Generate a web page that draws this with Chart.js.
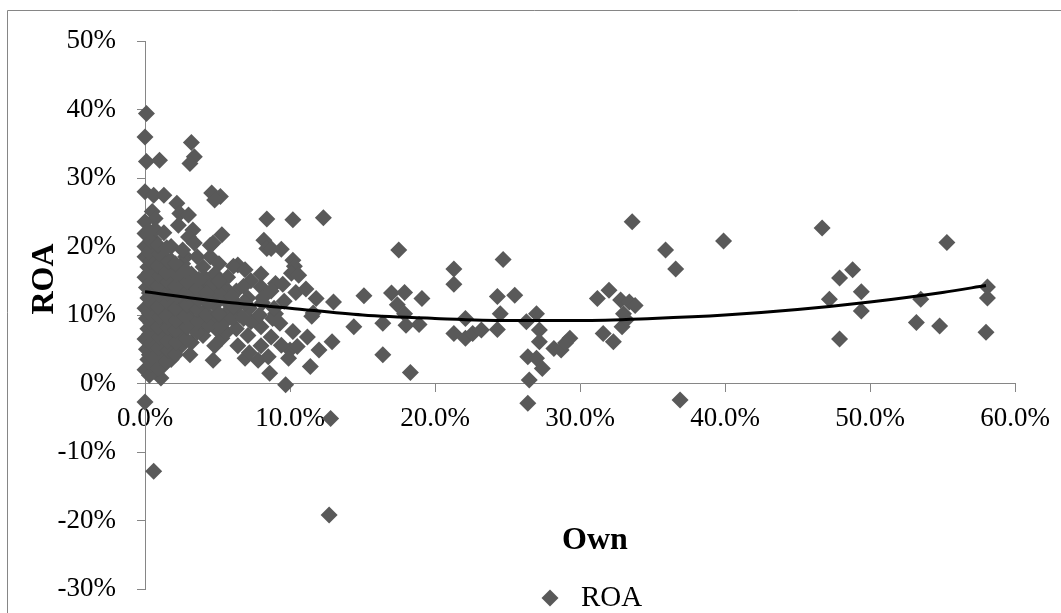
<!DOCTYPE html>
<html>
<head>
<meta charset="utf-8">
<script src="https://cdn.jsdelivr.net/npm/chart.js@4.4.1/dist/chart.umd.min.js"></script>
<style>
html, body { margin: 0; padding: 0; background: #fff; }
#wrap { width: 1061px; height: 613px; }
</style>
</head>
<body>
<div id="wrap"><canvas id="roaChart" width="1061" height="613"></canvas></div>
<script>
// values, in percent
const own = [
  // right side, sparse
  14.4,15.1,16.4,16.4,17.5,17.0,17.9,17.4,17.9,18.0,18.9,19.1,18.3,
  21.3,21.3,21.3,22.1,22.1,22.6,23.2,24.3,24.5,24.3,24.7,25.5,26.3,
  27.0,27.2,27.2,26.4,27.0,27.4,26.5,26.4,28.2,28.7,29.3,29.0,
  31.2,32.0,31.6,32.3,32.8,33.0,32.9,33.4,33.8,33.2,33.6,35.9,36.6,36.9,
  39.9,46.7,47.9,48.8,47.2,49.4,49.4,47.9,53.5,53.2,54.8,55.3,58.1,58.1,58.0,
  // middle
  8.4,10.2,12.3,8.2,8.4,9.4,10.2,10.3,10.1,9.0,8.0,11.8,13.0,11.5,
  9.3,10.2,11.2,12.9,12.0,10.0,11.4,8.6,9.7,8.0,8.7,8.5,9.0,9.9,8.1,10.5,
  12.7,12.8,0.6,0.0,1.1,4.7,3.1,5.3,6.9,7.8,9.4,10.4,11.1,10.6,11.6,
  // upper left
  0.1,0.0,3.2,3.4,3.1,0.1,1.0,0.0,0.6,1.3,4.6,5.2,4.8,2.2,
  0.5,0.7,2.4,3.0,2.3,0.0,0.0,3.3,3.0,5.3,4.7,3.4,0.0,0.7,
  1.8,2.8,3.6,4.5,2.6,5.1,6.4,0.0,1.4,6.1,6.9,8.7,4.5,
  // dense cluster
  0.0,0.2,0.1,0.0,0.2,0.1,0.0,0.2,0.1,0.0,0.2,
  0.6,0.7,0.5,0.6,0.7,0.5,0.6,0.7,0.5,0.6,0.7,0.5,0.6,0.7,
  1.2,1.1,1.3,1.2,1.1,1.3,1.2,1.1,1.3,1.2,1.1,1.3,
  1.8,1.9,1.7,1.8,1.9,1.7,1.8,1.9,1.7,1.8,
  2.5,2.4,2.6,2.5,2.4,2.6,2.5,2.4,2.6,
  3.2,3.3,3.1,3.2,3.3,3.1,3.2,
  4.0,3.9,4.1,4.0,3.9,4.1,4.0,
  4.8,4.9,4.7,4.8,4.9,4.7,4.8,
  5.6,5.5,5.7,5.6,5.5,5.7,
  6.4,6.3,6.5,6.4,6.3,
  7.2,7.1,7.3,7.2,7.1,7.3,
  8.0,7.9,8.1,8.0,
  8.8,8.9,8.7,
  9.6,9.5,
  0.3,0.4,0.3,0.4,0.3,0.4,0.3,0.4,0.3,0.4,0.3,0.4,0.3,0.4,0.3,
  0.9,1.0,0.9,1.0,0.9,1.0,0.9,1.0,0.9,1.0,0.9,1.0,0.9,
  1.5,1.6,1.5,1.6,1.5,1.6,1.5,1.6,1.5,1.6,1.5,
  2.1,2.2,2.1,2.2,2.1,2.2,2.1,2.2,2.1,
  2.8,2.9,2.8,2.9,2.8,2.9,2.8,
  3.6,3.7,3.6,3.7,3.6,3.7,
  4.4,4.3,4.4,4.3,
  5.2,5.1,5.2,5.1,
  6.0,6.1,6.0,
  6.8,6.9,6.8
];
const roa = [
  8.3,12.8,8.8,4.2,19.5,13.2,13.3,11.5,10.2,8.5,8.6,12.4,1.6,
  16.7,14.5,7.3,9.5,6.6,7.3,7.8,12.7,10.2,7.9,18.1,12.9,9.0,
  10.2,7.8,6.1,3.9,3.7,2.2,0.5,-2.9,5.1,4.9,6.6,5.9,
  12.4,13.6,7.3,6.1,12.2,10.2,8.3,11.9,11.4,9.3,23.6,19.5,16.7,-2.4,
  20.8,22.7,15.4,16.6,12.3,13.4,10.6,6.5,12.3,8.9,8.4,20.6,14.1,12.5,7.5,
  24.0,23.9,24.2,20.9,19.7,19.6,18.0,17.1,16.1,14.6,14.1,12.4,11.9,9.8,
  8.8,7.6,6.8,6.1,4.9,4.9,2.5,1.5,-0.2,8.3,6.8,3.9,10.2,3.7,11.8,5.4,
  -19.2,-5.1,-12.8,-2.7,0.8,3.4,4.2,6.6,3.7,3.4,5.6,13.3,13.8,15.8,10.3,
  39.4,36.0,35.2,33.1,32.1,32.4,32.6,28.0,27.5,27.5,27.8,27.3,26.8,26.3,
  25.1,24.1,24.8,24.6,23.1,23.6,21.9,22.4,21.4,21.7,20.5,20.5,20.0,19.5,
  20.0,18.5,18.5,18.5,17.5,17.5,17.3,18.5,17.8,17.1,16.6,19.7,20.2,
  2.0,3.5,5.0,6.5,8.0,9.5,11.0,12.5,14.0,15.5,17.0,
  1.8,3.0,4.5,6.0,7.5,9.0,10.5,12.0,13.5,15.0,16.5,18.0,21.0,22.5,
  2.5,4.0,5.5,7.5,9.0,11.0,12.5,14.0,15.5,17.0,19.0,22.0,
  3.5,5.0,7.0,8.5,10.0,12.0,13.5,15.0,16.5,18.0,
  5.5,7.0,9.0,10.5,12.0,14.0,15.5,17.0,19.5,
  6.0,8.0,9.5,11.0,13.0,14.5,16.0,
  7.0,9.0,10.5,12.5,14.0,15.5,17.0,
  5.5,8.0,9.5,11.5,13.0,14.5,16.0,
  7.5,9.0,10.5,12.0,14.0,15.5,
  5.5,8.0,10.0,11.5,13.5,
  4.5,7.0,9.0,11.0,12.5,15.0,
  5.5,10.0,12.5,16.0,
  9.5,11.0,13.5,
  12.0,14.5,
  1.2,2.8,4.2,5.8,7.2,8.8,10.2,11.8,13.2,14.8,16.2,17.8,19.2,20.8,22.2,
  2.2,3.8,5.2,6.8,8.2,9.8,11.2,12.8,14.2,15.8,17.2,18.8,20.2,
  3.2,4.8,6.2,8.2,9.8,11.8,13.2,14.8,16.2,17.8,19.8,
  4.2,6.0,7.8,9.2,11.0,12.8,14.2,16.0,17.5,
  6.5,8.2,9.8,11.5,13.2,14.8,16.5,
  7.5,9.0,10.8,12.2,13.8,15.2,
  8.5,10.0,11.8,13.2,
  8.5,10.2,12.8,15.0,
  9.5,11.2,12.8,
  9.5,11.8,14.2
];
// polynomial trendline
const trendOwn = [0, 5, 10, 15, 20, 25, 30, 35, 40, 45, 50, 55, 58];
const trendRoa = [13.4, 12.0, 11.0, 10.0, 9.5, 9.2, 9.2, 9.5, 10.0, 10.8, 11.9, 13.3, 14.3];

const seriesName = "ROA";
const xTitle = "Own";
const yTitle = "ROA";

const serif = "'Liberation Serif', 'Times New Roman', serif";
const markerColor = "#595959";
const axisColor = "#868686";

let pts = [];
for(let i = 0; i < Math.min(own.length, roa.length); i++){
    pts.push({x: own[i], y: roa[i]});
}
let trend = [];
for(let i = 0; i < trendOwn.length; i++){
    trend.push({x: trendOwn[i], y: trendRoa[i]});
}

// frame, axis titles and legend, placed like the excel chart
const decor = {
    id: "decor",
    beforeDraw(chart){
        const ctx = chart.ctx;
        ctx.save();
        ctx.fillStyle = "#fff";
        ctx.fillRect(0, 0, chart.width, chart.height);
        ctx.strokeStyle = axisColor;
        ctx.lineWidth = 1;
        ctx.beginPath();
        ctx.moveTo(7.5, chart.height + 5);
        ctx.lineTo(7.5, 10.5);
        ctx.lineTo(chart.width + 5, 10.5);
        ctx.stroke();
        ctx.restore();
    },
    afterDraw(chart){
        const ctx = chart.ctx;
        ctx.save();
        ctx.fillStyle = "#000";
        ctx.textAlign = "center";
        ctx.textBaseline = "middle";
        ctx.font = "bold 32px " + serif;
        ctx.fillText(xTitle, 595, 541);
        ctx.save();
        ctx.translate(45, 279);
        ctx.rotate(-Math.PI / 2);
        ctx.fillText(yTitle, 0, 0);
        ctx.restore();
        // legend entry
        const lx = 550, ly = 598, r = 8.5;
        ctx.fillStyle = markerColor;
        ctx.beginPath();
        ctx.moveTo(lx - r, ly);
        ctx.lineTo(lx, ly - r);
        ctx.lineTo(lx + r, ly);
        ctx.lineTo(lx, ly + r);
        ctx.closePath();
        ctx.fill();
        ctx.fillStyle = "#000";
        ctx.textAlign = "left";
        ctx.font = "29px " + serif;
        ctx.fillText(seriesName, 581, ly);
        ctx.restore();
    }
};

let ctx = document.getElementById("roaChart");
let chart = new Chart(ctx, {
    type: "scatter",
    data: {
        datasets: [{
            label: seriesName,
            data: pts,
            pointStyle: "rectRot",
            pointRadius: 8.5,
            pointHoverRadius: 8.5,
            backgroundColor: markerColor,
            borderColor: markerColor,
            borderWidth: 0,
            clip: false,
            order: 1
        },{
            label: "trend",
            type: "line",
            data: trend,
            borderColor: "#000",
            borderWidth: 3,
            pointRadius: 0,
            tension: 0.4,
            cubicInterpolationMode: "monotone",
            fill: false,
            order: 0
        }]
    },
    options: {
        responsive: false,
        animation: false,
        devicePixelRatio: 1,
        layout: {
            padding: {left: 0, top: 41, right: 46, bottom: 24}
        },
        plugins: {
            legend: {display: false},
            tooltip: {enabled: false}
        },
        scales: {
            x: {
                type: "linear",
                position: {y: 0},
                min: 0,
                max: 60,
                ticks: {
                    stepSize: 10,
                    padding: 11,
                    color: "#000",
                    font: {family: serif, size: 27},
                    callback: (v) => v.toFixed(1) + "%"
                },
                grid: {drawOnChartArea: false, tickLength: 8, color: axisColor},
                border: {color: axisColor, width: 1}
            },
            y: {
                min: -30,
                max: 50,
                ticks: {
                    stepSize: 10,
                    padding: 21,
                    color: "#000",
                    font: {family: serif, size: 27},
                    callback: (v) => v + "%"
                },
                grid: {drawOnChartArea: false, tickLength: 8, color: axisColor},
                border: {color: axisColor, width: 1},
                afterFit: (scale) => {
                    scale.width = 145;
                    scale.paddingTop = 0;
                    scale.paddingBottom = 0;
                }
            }
        }
    },
    plugins: [decor]
});
</script>
</body>
</html>
